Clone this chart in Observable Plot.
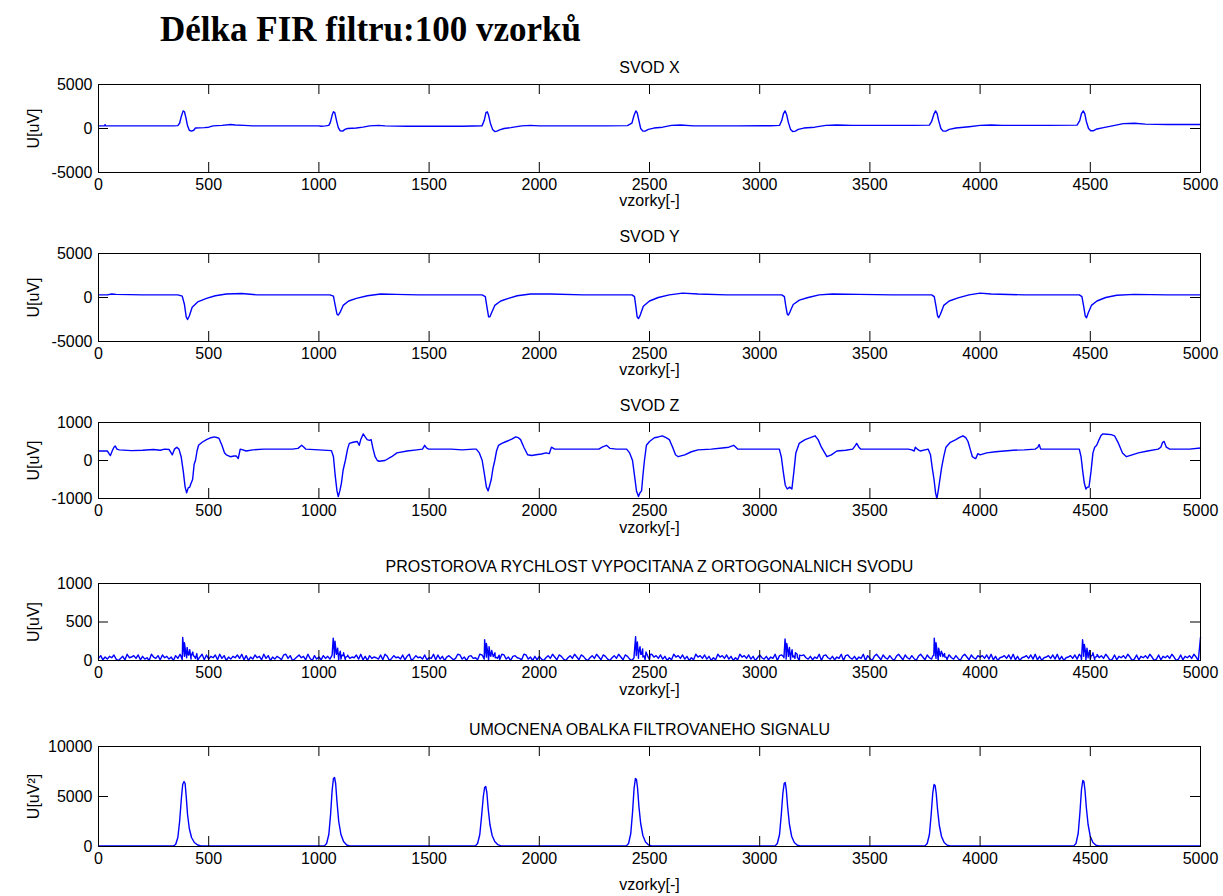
<!DOCTYPE html>
<html><head><meta charset="utf-8">
<script src="https://cdn.jsdelivr.net/npm/d3@7"></script>
<script src="https://cdn.jsdelivr.net/npm/@observablehq/plot@0.6"></script>
<style>
body{margin:0;background:#fff;}
#wrap{position:relative;width:1223px;height:896px;overflow:hidden;background:#fff;}
#title{position:absolute;left:160px;top:12px;font:bold 35px/1 "Liberation Serif","Times New Roman",serif;white-space:nowrap;color:#000;}
</style></head><body><div id="wrap"><div id="title">Délka FIR filtru:100 vzorků</div></div>
<script>
// ---- data ----
const xTicks = [0,500,1000,1500,2000,2500,3000,3500,4000,4500,5000];
const titles = ["SVOD X","SVOD Y","SVOD Z","PROSTOROVA RYCHLOST VYPOCITANA Z ORTOGONALNICH SVODU","UMOCNENA OBALKA FILTROVANEHO SIGNALU"];
const xLabel = "vzorky[-]";
const yLabels = ["U[uV]","U[uV]","U[uV]","U[uV]","U[uV²]"];
const yTicks1 = [-5000,0,5000];
const yTicks2 = [-5000,0,5000];
const yTicks3 = [-1000,0,1000];
const yTicks4 = [0,500,1000];
const yTicks5 = [0,5000,10000];

const svodX = [[0,300],[28,300],[30,450],[32,300],[150,300],[340,300],[360,330],[368,600],[376,1400],[384,2000],[390,1900],[396,1300],[404,300],[412,-200],[422,-300],[432,-200],[440,50],[480,100],[500,150],[520,300],[560,350],[600,450],[620,400],[660,350],[700,300],[1000,300],[1010,250],[1030,300],[1045,350],[1052,700],[1060,1500],[1066,1900],[1072,1800],[1080,900],[1088,100],[1096,-250],[1108,-300],[1118,-100],[1130,0],[1170,50],[1200,150],[1230,300],[1270,350],[1300,300],[1400,250],[1500,250],[1650,250],[1700,280],[1740,300],[1750,900],[1758,1800],[1764,1900],[1770,1500],[1778,600],[1788,-100],[1798,-350],[1808,-300],[1820,-150],[1840,0],[1870,100],[1920,300],[1960,350],[2000,300],[2100,300],[2300,300],[2400,330],[2420,600],[2430,1500],[2438,2000],[2444,1800],[2452,900],[2460,0],[2470,-300],[2480,-300],[2495,-100],[2520,50],[2560,150],[2600,350],[2640,400],[2700,300],[2900,300],[3050,320],[3090,350],[3100,900],[3108,1700],[3115,2000],[3122,1600],[3130,700],[3140,-100],[3150,-350],[3162,-300],[3175,-100],[3200,50],[3250,150],[3300,350],[3350,400],[3420,350],[3500,350],[3700,350],[3770,380],[3780,800],[3790,1600],[3798,2000],[3805,1700],[3812,900],[3822,0],[3832,-300],[3845,-300],[3860,-100],[3890,50],[3950,200],[4000,350],[4050,400],[4100,350],[4300,350],[4440,380],[4452,900],[4460,1700],[4468,2000],[4475,1700],[4482,800],[4492,0],[4502,-250],[4515,-250],[4530,-50],[4560,100],[4600,300],[4650,550],[4700,600],[4750,500],[4850,450],[5000,450]];

const svodY = [[0,300],[40,300],[60,400],[80,350],[200,300],[360,300],[380,150],[390,-800],[398,-2200],[404,-2500],[412,-2100],[425,-1100],[450,-500],[490,-100],[530,200],[580,400],[650,450],[720,300],[900,300],[1050,300],[1066,150],[1074,-900],[1082,-1900],[1088,-2000],[1096,-1700],[1110,-900],[1135,-400],[1170,-100],[1220,200],[1280,400],[1350,350],[1450,300],[1600,300],[1740,300],[1755,100],[1762,-1000],[1770,-2200],[1776,-2200],[1784,-1700],[1798,-900],[1825,-400],[1860,-100],[1900,200],[1960,400],[2050,400],[2200,300],[2420,300],[2432,100],[2438,-1000],[2444,-2200],[2450,-2400],[2458,-2000],[2472,-1000],[2500,-400],[2540,0],[2590,300],[2650,500],[2720,400],[2850,300],[3100,300],[3112,100],[3118,-900],[3125,-1900],[3130,-2000],[3138,-1600],[3152,-800],[3180,-300],[3220,0],[3270,300],[3330,400],[3450,350],[3600,300],[3780,300],[3792,100],[3800,-1000],[3807,-2100],[3812,-2300],[3820,-1900],[3835,-900],[3860,-400],[3900,-50],[3950,300],[4000,500],[4050,400],[4200,300],[4450,300],[4462,100],[4470,-1000],[4477,-2100],[4483,-2300],[4490,-1800],[4505,-900],[4530,-400],[4570,0],[4620,250],[4700,350],[4850,300],[5000,300]];

const svodZ = [[0,250],[40,250],[48,180],[54,130],[62,250],[70,350],[76,380],[84,300],[94,280],[150,260],[200,270],[250,290],[280,270],[300,300],[320,290],[335,150],[345,300],[355,350],[365,300],[375,100],[385,-300],[393,-700],[400,-850],[407,-720],[414,-700],[420,-600],[427,-500],[434,-100],[440,0],[447,250],[454,400],[470,480],[490,550],[510,600],[526,620],[540,600],[547,580],[560,400],[572,200],[580,150],[598,100],[615,120],[625,120],[634,50],[643,300],[655,280],[670,250],[700,280],[750,300],[814,300],[880,300],[905,320],[922,400],[932,350],[940,300],[1000,280],[1057,260],[1066,100],[1074,-400],[1082,-800],[1088,-950],[1095,-800],[1102,-600],[1110,-250],[1120,0],[1130,300],[1138,450],[1155,480],[1174,500],[1183,400],[1190,550],[1201,700],[1210,620],[1219,550],[1230,530],[1237,550],[1246,300],[1255,100],[1265,0],[1273,-20],[1300,0],[1330,100],[1354,200],[1400,250],[1444,280],[1470,300],[1480,400],[1488,330],[1498,300],[1600,300],[1650,280],[1700,300],[1714,300],[1728,200],[1741,0],[1752,-400],[1760,-700],[1768,-800],[1775,-650],[1782,-500],[1790,-200],[1798,0],[1806,250],[1815,400],[1830,450],[1850,500],[1875,560],[1893,620],[1905,600],[1915,550],[1930,350],[1947,150],[1965,130],[1985,150],[2010,170],[2030,200],[2045,180],[2055,350],[2070,300],[2200,300],[2270,300],[2285,350],[2305,400],[2320,320],[2350,300],[2396,300],[2410,200],[2423,0],[2432,-400],[2441,-800],[2450,-950],[2457,-850],[2464,-800],[2470,-400],[2477,0],[2486,400],[2500,500],[2522,600],[2540,620],[2558,650],[2575,600],[2590,550],[2605,350],[2618,150],[2630,100],[2660,150],[2690,230],[2720,280],[2780,300],[2830,330],[2860,350],[2882,400],[2900,300],[2950,300],[3000,300],[3089,300],[3098,100],[3107,-300],[3116,-650],[3125,-750],[3136,-700],[3146,-750],[3155,-300],[3164,200],[3179,450],[3206,550],[3230,600],[3251,650],[3265,550],[3280,350],[3295,200],[3305,100],[3325,150],[3350,250],[3390,270],[3422,300],[3432,380],[3440,450],[3450,350],[3458,300],[3550,300],[3674,300],[3690,280],[3701,250],[3706,350],[3715,300],[3728,250],[3764,300],[3775,150],[3783,-200],[3791,-500],[3798,-850],[3804,-1000],[3810,-800],[3815,-600],[3825,-200],[3835,100],[3845,350],[3865,480],[3890,550],[3905,600],[3922,650],[3935,600],[3945,500],[3955,300],[3965,100],[3975,60],[3980,50],[3990,180],[4000,150],[4030,200],[4070,230],[4150,270],[4200,280],[4250,300],[4262,350],[4268,420],[4275,300],[4350,300],[4450,300],[4458,100],[4466,-300],[4473,-600],[4480,-750],[4487,-700],[4494,-700],[4503,-300],[4512,200],[4520,350],[4529,400],[4540,550],[4548,650],[4556,700],[4575,690],[4595,680],[4610,650],[4628,450],[4646,200],[4664,100],[4690,150],[4718,200],[4760,250],[4808,300],[4820,350],[4828,480],[4835,500],[4845,350],[4860,300],[4950,300],[5000,330]];

// spatial velocity: background noise, one digit per 10 samples (digit x 9 uV), plus beat spikes
const velNoiseStep = 10;
const velNoiseUnit = 9;
const velNoiseDigits =
"37152648203619457381624095371846250739164827305918" +
"26481937052648391705284619370526418937025846193072" +
"51736284902716354829160735428196037452816903745281" +
"43918260574139825067341982506743198250674319825061" +
"62047395186204739518620473951862047395186204739518" +
"19573826041957382604195738260419573826041957382604" +
"84261539078426153907842615390784261539078426153907" +
"30695184273069518427306951842730695184273069518427" +
"57382916045738291604573829160457382916045738291604" +
"28164739502816473950281647395028164739502816473950";
const velSpikes = [
[375,50],[382,300],[386,150],[390,230],[396,100],[402,170],[408,70],[414,140],[420,60],[428,110],[436,50],[446,90],[458,40],
[1058,60],[1065,290],[1069,140],[1073,250],[1079,90],[1085,160],[1091,60],[1097,120],[1104,70],[1112,100],[1120,40],[1130,70],
[1745,50],[1752,270],[1756,130],[1760,220],[1766,110],[1772,180],[1778,60],[1784,130],[1791,50],[1799,100],[1808,40],[1818,70],
[2430,60],[2437,310],[2441,150],[2445,240],[2451,100],[2457,180],[2463,80],[2469,150],[2476,60],[2484,110],[2493,50],[2503,80],
[3108,50],[3115,280],[3119,140],[3123,220],[3129,100],[3135,170],[3141,60],[3147,140],[3154,60],[3162,100],[3171,40],[3181,70],
[3785,60],[3792,290],[3796,130],[3800,230],[3806,100],[3812,160],[3818,70],[3824,120],[3831,50],[3839,90],[3848,40],[3858,70],
[4458,50],[4465,270],[4469,140],[4473,210],[4479,100],[4485,160],[4491,60],[4497,130],[4504,60],[4512,100],[4521,40],[4531,80],
[5000,300]];

const envelope = [[0,60],[340,60],[350,200],[360,900],[368,2500],[376,4800],[382,6200],[388,6500],[393,6300],[398,5000],[404,3200],[412,1800],[422,900],[435,400],[450,150],[465,60],
[1025,60],[1035,300],[1045,1200],[1053,3200],[1060,5600],[1066,6800],[1071,6900],[1076,6300],[1082,4500],[1090,2500],[1100,1200],[1112,500],[1126,150],[1140,60],
[1710,60],[1720,300],[1730,1200],[1738,3000],[1746,5000],[1752,5900],[1757,6000],[1762,5400],[1768,3800],[1776,2200],[1786,1100],[1798,500],[1812,180],[1826,60],
[2395,60],[2405,300],[2415,1300],[2423,3400],[2430,5800],[2436,6800],[2441,6700],[2446,5800],[2452,4000],[2460,2300],[2470,1100],[2482,450],[2496,150],[2510,60],
[3070,60],[3080,300],[3090,1200],[3098,3200],[3105,5300],[3111,6300],[3116,6400],[3121,5600],[3127,3900],[3135,2200],[3145,1000],[3157,400],[3171,130],[3185,60],
[3750,60],[3760,300],[3770,1200],[3778,3200],[3785,5300],[3791,6200],[3796,6100],[3801,5300],[3807,3700],[3815,2100],[3825,1000],[3837,400],[3851,130],[3865,60],
[4425,60],[4435,300],[4445,1300],[4453,3400],[4460,5700],[4466,6600],[4471,6500],[4476,5600],[4482,3900],[4490,2200],[4500,1000],[4512,400],[4526,130],[4540,60],[5000,60]];

// ---- build ----
const velocity = Array.from(velNoiseDigits, (c, i) => [i * velNoiseStep, +c * velNoiseUnit])
  .concat(velSpikes).sort((a, b) => a[0] - b[0]);

const panels = [
  {data: svodX, yTicks: yTicks1, top: 84, boxH: 88, labelDy: 28},
  {data: svodY, yTicks: yTicks2, top: 253, boxH: 88, labelDy: 28},
  {data: svodZ, yTicks: yTicks3, top: 422, boxH: 76, labelDy: 29},
  {data: velocity, yTicks: yTicks4, top: 583, boxH: 77, labelDy: 29},
  {data: envelope, yTicks: yTicks5, top: 746, boxH: 100, labelDy: 38}
];

const W = 1223, ML = 98, MR = 23, plotW = W - ML - MR;
const MT = 40, MB = 55;
const wrap = document.getElementById("wrap");
panels.forEach((p, k) => {
  const yDom = [p.yTicks[0], p.yTicks[p.yTicks.length - 1]];
  const chart = Plot.plot({
    width: W, height: MT + p.boxH + MB,
    marginLeft: ML, marginRight: MR, marginTop: MT, marginBottom: MB,
    style: {background: "transparent", fontFamily: "'Liberation Sans', Arial, sans-serif", fontSize: "16px", color: "#000", overflow: "visible"},
    x: {domain: [xTicks[0], xTicks[xTicks.length - 1]]},
    y: {domain: yDom},
    marks: [
      Plot.line(p.data, {x: d => d[0], y: d => d[1], stroke: "#0000ff", strokeWidth: 1.4}),
      Plot.ruleX(xTicks, {x: d => d, insetBottom: p.boxH - 10, stroke: "#000"}),
      Plot.ruleX(xTicks, {x: d => d, insetTop: p.boxH - 10, stroke: "#000"}),
      Plot.ruleY(p.yTicks, {y: d => d, insetRight: plotW - 10, stroke: "#000"}),
      Plot.ruleY(p.yTicks, {y: d => d, insetLeft: plotW - 10, stroke: "#000"}),
      Plot.frame({stroke: "#000"}),
      Plot.axisX(xTicks, {tickSize: 0, tickPadding: 6, label: null, tickFormat: d => String(d)}),
      Plot.axisY(p.yTicks, {tickSize: 0, tickPadding: 6, label: null, tickFormat: d => String(d)}),
      Plot.text([titles[k]], {text: d => d, frameAnchor: "top", dy: -17, textAnchor: "middle", lineAnchor: "middle"}),
      Plot.text([xLabel], {text: d => d, frameAnchor: "bottom", dy: p.labelDy, textAnchor: "middle", lineAnchor: "middle"}),
      Plot.text([yLabels[k]], {text: d => d, frameAnchor: "left", rotate: -90, dx: -65, textAnchor: "middle", lineAnchor: "middle"})
    ]
  });
  chart.style.position = "absolute";
  chart.style.top = (p.top - MT) + "px";
  chart.style.left = "0px";
  wrap.appendChild(chart);
});
</script>
</body></html>
